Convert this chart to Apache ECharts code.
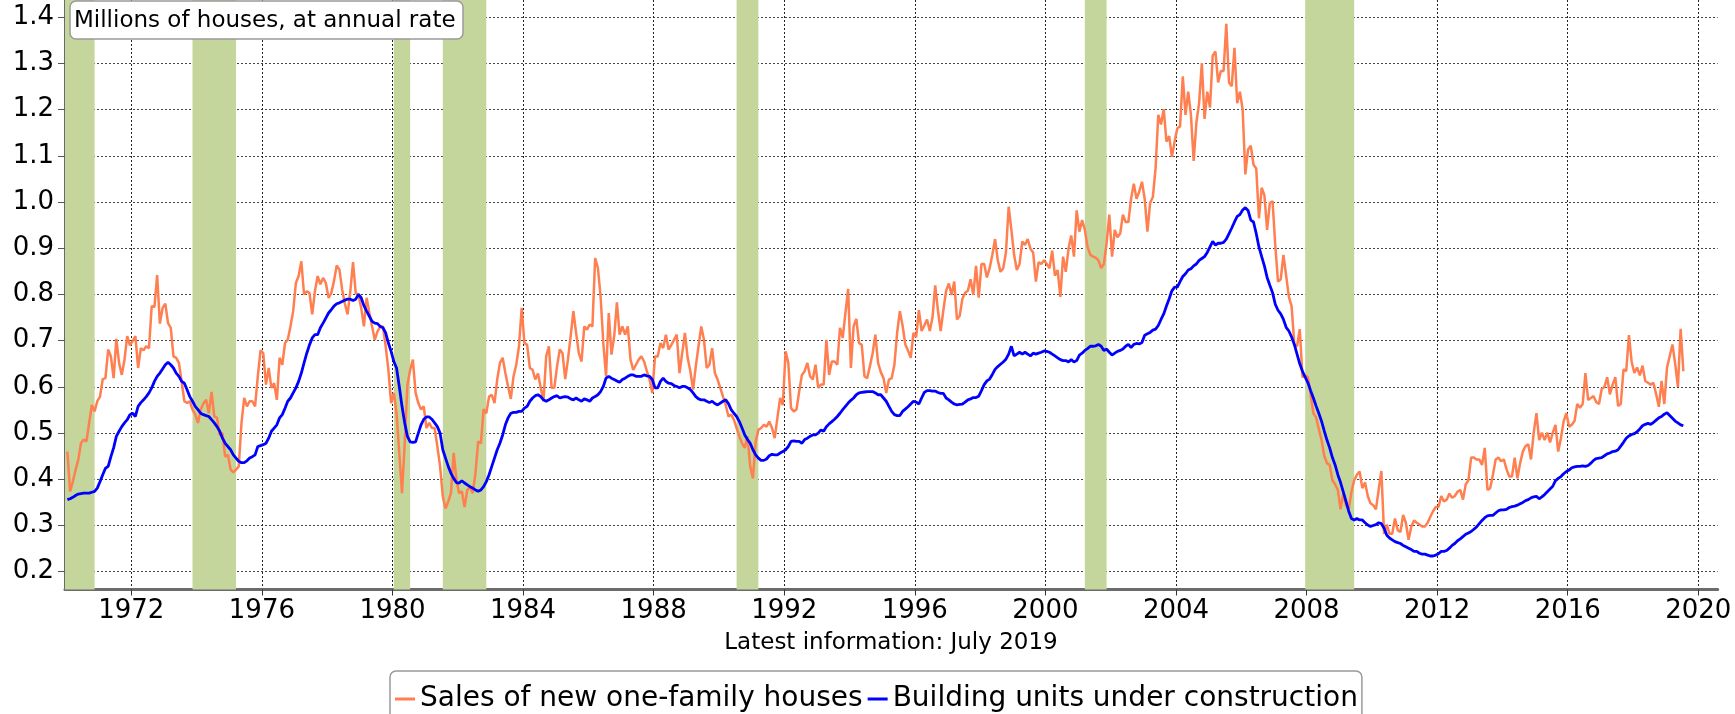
<!DOCTYPE html>
<html><head><meta charset="utf-8">
<script src="https://cdn.jsdelivr.net/npm/echarts@6/dist/echarts.min.js"></script>
<style>html,body{margin:0;padding:0;background:#fff}#c{width:1735px;height:714px}</style>
</head><body><div id="c"></div>
<script>
// Monthly data, millions of houses at annual rate, starting Jan 1970
const startMonth = "1970-01";
const salesNewHouses = [
0.460,0.374,0.395,0.420,0.442,0.478,0.486,0.482,0.522,0.561,
0.547,0.569,0.579,0.617,0.619,0.681,0.666,0.619,
0.704,0.652,0.626,0.659,0.710,0.690,0.699,0.710,0.641,0.684,0.679,0.688,0.684,0.775,0.773,0.842,0.737,0.771,0.780,0.738,0.728,0.666,0.663,0.652,0.612,0.569,0.565,0.569,0.551,0.540,0.522,0.551,0.564,0.572,0.543,0.589,0.536,0.533,0.496,0.500,0.449,0.453,0.421,0.415,0.421,0.428,0.522,0.576,0.558,0.569,0.569,0.558,0.623,0.679,0.673,0.605,0.641,0.598,0.608,0.572,
0.663,0.648,0.695,0.702,0.731,0.764,0.825,0.840,0.872,0.800,0.807,0.803,0.757,0.807,0.840,0.822,0.836,0.825,0.793,0.803,0.829,0.863,0.854,0.811,0.780,0.757,0.807,0.870,0.803,0.800,0.771,0.731,0.793,0.760,0.731,0.702,0.720,0.731,0.731,0.688,0.637,0.565,0.587,0.543,0.457,0.370,0.478,0.605,0.637,0.659,0.587,0.565,0.551,0.558,0.511,0.522,0.511,0.511,0.471,
0.428,0.363,0.337,0.352,0.370,0.457,0.399,0.370,0.374,0.340,0.377,0.384,0.370,0.413,0.482,0.478,0.552,0.543,0.579,0.583,0.565,0.616,0.652,0.663,0.630,0.601,0.574,0.623,0.648,0.688,0.771,0.695,0.691,0.641,0.637,0.616,0.629,0.598,0.569,0.666,0.688,0.598,0.598,0.645,0.681,0.673,0.617,0.659,0.710,0.764,0.717,0.673,0.655,0.731,0.724,0.735,0.731,0.879,0.858,0.796,
0.695,0.623,0.760,0.670,0.710,0.783,0.713,0.731,0.713,0.731,0.659,0.637,0.648,0.659,0.666,0.655,0.634,0.616,0.587,0.666,0.666,0.695,0.684,0.713,0.681,0.691,0.702,0.713,0.630,0.673,0.717,0.663,0.634,0.594,0.645,0.688,0.731,0.702,0.641,0.648,0.684,0.630,0.616,0.598,0.579,0.561,0.536,0.540,0.529,0.511,0.493,0.478,0.468,0.493,0.428,0.402,0.482,0.507,0.511,0.518,0.514,0.525,0.511,0.489,0.533,0.576,0.561,0.677,0.652,0.554,0.547,0.551,0.590,0.626,0.634,0.652,0.623,0.616,0.648,0.598,0.605,0.605,0.702,0.626,0.655,0.655,0.648,0.728,0.706,0.760,0.812,0.641,0.731,0.747,0.695,0.691,0.623,0.619,0.645,0.673,0.713,0.652,0.632,0.619,0.587,0.616,0.619,0.648,0.717,0.764,
0.733,0.692,0.679,0.663,0.717,0.708,0.766,0.721,0.733,0.746,0.721,0.750,0.820,0.766,0.721,0.766,0.808,0.824,0.799,0.828,0.746,0.754,0.791,0.804,0.808,0.833,0.799,0.862,0.793,0.866,0.866,0.837,0.857,0.886,0.920,0.874,0.849,0.857,0.891,0.990,0.940,0.886,0.853,0.866,0.915,0.907,0.920,0.899,0.891,0.828,0.870,0.866,0.874,0.866,0.857,0.895,0.841,0.853,0.795,0.882,0.849,0.899,0.928,0.882,0.982,0.936,0.961,0.940,0.903,0.886,0.882,0.880,0.874,0.857,0.866,0.911,0.973,0.882,0.940,0.924,0.932,0.973,0.957,0.957,1.007,1.040,1.007,1.023,1.044,1.007,0.936,0.998,1.011,1.073,1.189,1.168,1.201,1.131,1.143,1.098,1.131,1.160,1.164,1.272,1.189,1.239,1.189,1.089,1.172,1.214,1.301,1.180,1.239,1.205,1.317,1.326,1.259,1.284,1.284,1.386,1.259,1.251,1.334,1.214,1.239,1.201,1.060,1.114,1.122,1.081,1.073,0.965,1.031,1.015,0.940,0.998,1.002,0.907,0.828,0.833,0.886,0.841,0.795,0.775,0.692,0.688,0.725,0.621,0.625,0.621,0.584,0.543,0.534,0.509,0.485,0.451,0.435,0.431,0.398,0.389,0.377,0.335,0.369,0.344,0.335,0.373,0.398,0.410,0.417,0.381,0.393,0.364,0.348,0.344,0.335,0.377,0.418,0.282,0.302,0.282,0.282,0.315,0.290,0.286,0.323,0.306,0.269,0.298,0.311,0.306,0.302,0.298,0.298,0.306,0.319,0.331,0.340,0.340,0.364,0.352,0.356,0.369,0.360,0.364,0.373,0.377,0.356,0.389,0.398,0.447,0.447,0.443,0.443,0.431,0.468,0.377,0.381,0.410,0.443,0.447,0.439,0.443,0.422,0.406,0.406,0.447,0.402,0.435,0.460,0.472,0.476,0.443,0.501,0.543,0.485,0.501,0.485,0.501,0.480,0.501,0.518,0.460,0.489,0.526,0.543,0.514,0.518,0.526,0.563,0.555,0.563,0.630,0.572,0.576,0.580,0.567,0.563,0.596,0.600,0.621,0.584,0.605,0.621,0.559,0.563,0.638,0.634,0.712,0.654,0.630,0.642,0.625,0.646,0.613,0.609,0.605,0.609,0.584,0.557,0.613,0.563,0.642,0.667,0.692,0.650,0.600,0.726,0.634
];
const unitsUnderConstruction = [
0.356,0.358,0.361,0.365,0.368,0.369,0.370,0.370,0.370,0.372,
0.374,0.381,0.395,0.410,0.424,0.428,0.449,0.468,0.493,0.504,0.514,0.522,0.529,0.540,0.543,0.536,0.558,0.566,0.572,0.579,0.587,0.598,0.612,0.623,0.630,0.639,0.648,0.653,0.648,0.641,0.630,0.623,0.612,0.608,0.594,0.579,0.569,0.558,0.551,0.543,0.540,0.538,0.536,0.529,0.522,0.514,0.504,0.489,0.478,0.471,0.464,0.453,0.446,0.439,0.436,0.436,0.440,0.446,0.449,0.453,0.471,0.473,0.475,0.478,0.489,0.504,0.511,0.518,
0.533,0.540,0.554,0.569,0.576,0.587,0.598,0.612,0.630,0.652,0.673,0.691,0.706,0.713,0.713,0.728,0.738,0.749,0.760,0.767,0.775,0.780,0.782,0.785,0.788,0.790,0.790,0.787,0.790,0.800,0.793,0.776,0.764,0.753,0.742,0.738,0.737,0.731,0.728,0.717,0.695,0.677,0.655,0.641,0.601,0.558,0.522,0.493,0.481,0.480,0.481,0.500,0.518,0.530,0.535,0.535,0.530,0.522,0.514,0.500,
0.464,0.446,0.428,0.413,0.402,0.393,0.392,0.397,0.392,0.388,0.384,0.381,0.377,0.374,0.377,0.384,0.395,0.410,0.428,0.446,0.464,0.478,0.496,0.518,0.533,0.543,0.545,0.545,0.547,0.547,0.554,0.558,0.569,0.576,0.581,0.583,0.579,0.572,0.569,0.572,0.576,0.579,0.581,0.576,0.578,0.579,0.578,0.574,0.572,0.576,0.572,0.569,0.574,0.572,0.569,0.576,0.579,0.583,0.590,0.601,
0.619,0.623,0.619,0.616,0.613,0.610,0.616,0.619,0.623,0.626,0.626,0.623,0.623,0.623,0.626,0.624,0.623,0.616,0.598,0.598,0.612,0.619,0.612,0.608,0.607,0.603,0.601,0.598,0.601,0.601,0.598,0.594,0.587,0.579,0.574,0.572,0.572,0.569,0.566,0.569,0.564,0.561,0.565,0.569,0.572,0.564,0.551,0.543,0.536,0.525,0.511,0.496,0.486,0.478,0.464,0.453,0.446,0.441,0.441,0.444,
0.451,0.454,0.453,0.453,0.457,0.460,0.464,0.471,0.482,0.483,0.482,0.482,0.478,0.486,0.489,0.493,0.496,0.496,0.500,0.507,0.504,0.514,0.520,0.525,0.530,0.536,0.543,0.551,0.558,0.565,0.571,0.576,0.583,0.587,0.588,0.589,0.590,0.590,0.590,0.587,0.583,0.583,0.576,0.569,0.558,0.547,0.540,0.538,0.538,
0.547,0.552,0.557,0.563,0.569,0.567,0.563,0.576,0.588,0.592,0.592,0.591,0.591,0.588,0.586,0.586,0.576,0.572,0.567,0.563,0.561,0.562,0.563,0.567,0.572,0.574,0.577,0.577,0.580,0.592,0.605,0.613,0.617,0.627,0.638,0.644,0.649,0.654,0.660,0.671,0.688,0.667,0.671,0.675,0.671,0.675,0.671,0.667,0.673,0.671,0.673,0.675,0.678,0.677,0.675,0.671,0.667,0.663,0.659,0.657,0.657,0.654,0.659,0.654,0.657,0.669,0.673,0.679,0.683,0.688,0.688,0.689,0.692,0.688,0.679,0.682,0.675,0.669,0.673,0.677,0.679,0.682,0.688,0.692,0.685,0.692,0.694,0.693,0.696,0.712,0.715,0.718,0.723,0.725,0.733,0.746,0.758,0.775,0.791,0.808,0.816,0.816,0.828,0.839,0.845,0.853,0.856,0.862,0.866,0.874,0.878,0.882,0.891,0.903,0.915,0.907,0.911,0.911,0.913,0.920,0.932,0.944,0.957,0.969,0.973,0.983,0.988,0.982,0.961,0.957,0.932,0.903,0.882,0.862,0.837,0.820,0.804,0.779,0.766,0.758,0.746,0.729,0.721,0.708,0.692,0.671,0.650,0.634,0.621,0.609,0.592,0.576,0.559,0.543,0.526,0.505,0.485,0.468,0.447,0.431,0.410,0.393,0.373,0.352,0.331,0.315,0.312,0.315,0.312,0.312,0.306,0.301,0.298,0.300,0.302,0.306,0.304,0.294,0.279,0.273,0.269,0.265,0.263,0.261,0.257,0.254,0.251,0.248,0.244,0.244,0.240,0.238,0.238,0.236,0.234,0.234,0.236,0.239,0.244,0.244,0.246,0.251,0.257,0.261,0.267,0.271,0.276,0.281,0.284,0.287,0.292,0.297,0.304,0.311,0.317,0.321,0.322,0.322,0.327,0.332,0.334,0.334,0.335,0.339,0.341,0.342,0.344,0.347,0.350,0.354,0.356,0.360,0.362,0.363,0.358,0.362,0.367,0.373,0.379,0.385,0.397,0.402,0.406,0.412,0.417,0.420,0.425,0.427,0.428,0.428,0.429,0.428,0.430,0.435,0.441,0.445,0.446,0.447,0.451,0.455,0.457,0.460,0.461,0.464,0.472,0.480,0.489,0.494,0.497,0.499,0.503,0.509,0.516,0.519,0.521,0.519,0.523,0.528,0.533,0.536,0.541,0.544,0.538,0.532,0.526,0.522,0.518,0.516
];
const recessions = [["1969-12","1970-11"],["1973-11","1975-03"],["1980-01","1980-07"],["1981-07","1982-11"],["1990-07","1991-03"],["2001-03","2001-11"],["2007-12","2009-06"]];
const yearTicks = [1972,1976,1980,1984,1988,1992,1996,2000,2004,2008,2012,2016,2020];
const valueTicks = [0.2,0.3,0.4,0.5,0.6,0.7,0.8,0.9,1.0,1.1,1.2,1.3,1.4];
const seriesNames = ["Sales of new one-family houses","Building units under construction"];
const unitsLabel = "Millions of houses, at annual rate";
const latestInfo = "Latest information: July 2019";

function ymToYear(s){const p=s.split('-').map(Number);return p[0]+(p[1]-0.5)/12;}
function toPairs(arr){const s=ymToYear(startMonth);return arr.map((v,i)=>[s+i/12,v]);}

const FONT='DejaVu Sans';
const chart = echarts.init(document.getElementById('c'));
chart.setOption({
  animation:false,
  backgroundColor:'#fff',
  grid:{left:65,right:17.3,top:0,bottom:124.5,containLabel:false},
  xAxis:{type:'value',min:1969.969,max:2020.594,
    axisLine:{show:true,onZero:false,lineStyle:{color:'#6b6b6b',width:3}},
    axisTick:{show:true,customValues:yearTicks,length:6,lineStyle:{color:'#333',width:1}},
    axisLabel:{customValues:yearTicks,formatter:v=>String(Math.round(v)),fontSize:26,color:'#000',fontFamily:FONT,margin:9},
    splitLine:{show:true,lineStyle:{color:'#222',type:[2,2],width:1}}},
  yAxis:{type:'value',min:0.1615,max:1.4375,
    axisLine:{show:true,onZero:false,lineStyle:{color:'#6b6b6b',width:3}},
    axisTick:{show:true,customValues:valueTicks,length:7,lineStyle:{color:'#555',width:1}},
    axisLabel:{customValues:valueTicks,formatter:v=>v.toFixed(1),fontSize:26,color:'#000',fontFamily:FONT,margin:11},
    splitLine:{show:true,lineStyle:{color:'#444',type:[2,2],width:1}}},
  legend:{left:390,top:671,itemWidth:20,itemHeight:3,itemGap:5,padding:[14,4,14,5],
    borderColor:'#999',borderWidth:1.5,borderRadius:6,backgroundColor:'#fff',
    textStyle:{fontSize:28,fontFamily:FONT,color:'#000'},
    data:[{name:seriesNames[0],icon:'rect'},{name:seriesNames[1],icon:'rect'}]},
  graphic:[
    {type:'rect',shape:{x:70,y:1,width:393,height:38,r:6},style:{fill:'#fff',stroke:'#9a9a9a',lineWidth:1.5},z:100},
    {type:'text',x:74,y:21,style:{text:unitsLabel,font:'23px "DejaVu Sans"',fill:'#000',verticalAlign:'middle'},z:101},
    {type:'text',x:891,y:643,style:{text:latestInfo,font:'23px "DejaVu Sans"',fill:'#000',align:'center',verticalAlign:'middle'},z:101}
  ],
  series:[
    {type:'line',name:'recessions',data:[],z:-1,silent:true,
      markArea:{silent:true,itemStyle:{color:'#c4d69b',opacity:1},
        data:recessions.map(r=>[{xAxis:ymToYear(r[0])},{xAxis:ymToYear(r[1])}])}},
    {type:'line',name:seriesNames[0],data:toPairs(salesNewHouses),showSymbol:false,
      lineStyle:{color:'#ff7f50',width:2.5},itemStyle:{color:'#ff7f50'},z:3},
    {type:'line',name:seriesNames[1],data:toPairs(unitsUnderConstruction),showSymbol:false,
      lineStyle:{color:'#0000ff',width:2.8},itemStyle:{color:'#0000ff'},z:4}
  ]
});
</script></body></html>
